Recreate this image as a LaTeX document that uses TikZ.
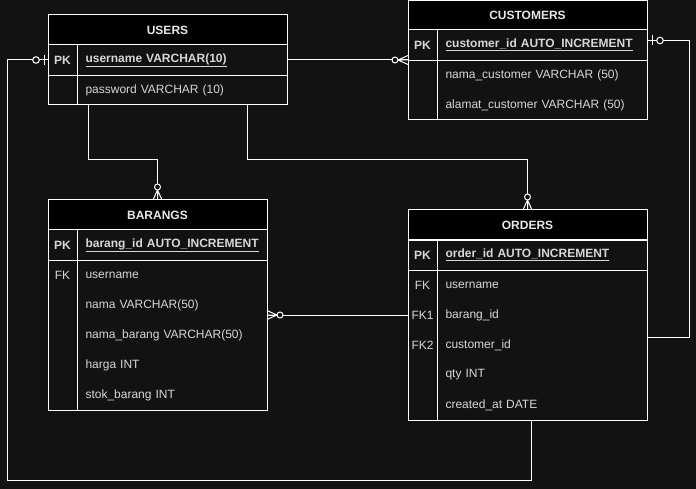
\documentclass[tikz,border=0pt]{standalone}
\usepackage{fontspec}
\setmainfont{Liberation Sans}
\definecolor{bg}{RGB}{18,18,18}
\definecolor{txt}{RGB}{215,215,215}
\definecolor{htxt}{RGB}{232,232,232}
\begin{document}
\begin{tikzpicture}[x=1pt,y=-1pt,line width=1pt]
  \tikzset{ tbl/.style={draw=white,fill=bg,anchor=north west,inner sep=0pt,outer sep=0pt},
    hdr/.style={tbl,fill=black,minimum height=30pt,text=htxt,font=\bfseries\fontsize{12}{14}\selectfont},
    key/.style={minimum width=29pt,minimum height=30pt,inner sep=0pt,text=txt,font=\fontsize{12}{14}\selectfont},
    pkey/.style={key,font=\bfseries\fontsize{12}{14}\selectfont},
    fld/.style={anchor=west,text width=#1,inner xsep=8pt,inner ysep=0pt,minimum height=30pt,align=left,text=txt,font=\fontsize{12}{14}\selectfont},
    sep/.style={draw=white},
    conn/.style={draw=white},
    zmany/.pic={ \draw[white] (10,0) -- (0,4.5) (10,0) -- (0,0) (10,0) -- (0,-4.5);
      \draw[white,fill=bg] (13,0) circle (3); },
    zone/.pic={ \draw[white] (4,-5) -- (4,5);
      \draw[white,fill=bg] (12,0) circle (3.3); },
  }
  \useasboundingbox (0,0) rectangle (696,489);
  \fill[bg] (0,0) rectangle (696,489);

  % USERS
  \node[tbl,minimum width=239pt,minimum height=90pt] (users) at (48,15) {};
  \node[hdr,minimum width=239pt] (usersH) at (48,15) {USERS};
  \node[pkey] at (62.5,60) {PK};
  \node[fld=194pt] (usersPK) at (77,60) {\bfseries\underline{username VARCHAR(10)}};
  \node[fld=194pt] (usersPw) at (77,90) {password VARCHAR (10)};
  \draw[sep] (users.west |- usersPK.south) -- (users.east |- usersPK.south);
  \draw[sep] (usersPK.north west) -- (users.south -| usersPK.west);

  % CUSTOMERS
  \node[tbl,minimum width=239pt,minimum height=119.5pt] (customers) at (408,0.5) {};
  \node[hdr,minimum width=239pt,minimum height=29.5pt] (customersH) at (408,0.5) {CUSTOMERS};
  \node[pkey] at (422.5,45) {PK};
  \node[fld=194pt] (custPK) at (437,45) {\bfseries\underline{customer\_id AUTO\_INCREMENT}};
  \node[fld=194pt] (custNama) at (437,75) {nama\_customer VARCHAR (50)};
  \node[fld=194pt] (custAlamat) at (437,105) {alamat\_customer VARCHAR (50)};
  \draw[sep] (customers.west |- custPK.south) -- (customers.east |- custPK.south);
  \draw[sep] (custPK.north west) -- (customers.south -| custPK.west);

  % BARANGS
  \node[tbl,minimum width=219pt,minimum height=210pt] (barangs) at (48,200) {};
  \node[hdr,minimum width=219pt] (barangsH) at (48,200) {BARANGS};
  \node[pkey] at (62.5,245) {PK};
  \node[key] at (62.5,275) {FK};
  \node[fld=174pt] (barangsPK) at (77,245) {\bfseries\underline{barang\_id AUTO\_INCREMENT}};
  \node[fld=174pt] (barangsUser) at (77,275) {username};
  \node[fld=174pt] (barangsNama) at (77,305) {nama VARCHAR(50)};
  \node[fld=174pt] (barangsNamaB) at (77,335) {nama\_barang VARCHAR(50)};
  \node[fld=174pt] (barangsHarga) at (77,365) {harga INT};
  \node[fld=174pt] (barangsStok) at (77,395) {stok\_barang INT};
  \draw[sep] (barangs.west |- barangsPK.south) -- (barangs.east |- barangsPK.south);
  \draw[sep] (barangsPK.north west) -- (barangs.south -| barangsPK.west);

  % ORDERS
  \node[tbl,minimum width=239pt,minimum height=210pt] (orders) at (408,210) {};
  \node[hdr,minimum width=239pt] (ordersH) at (408,210) {ORDERS};
  \node[pkey] at (422.5,255) {PK};
  \node[key] at (422.5,285) {FK};
  \node[key] at (422.5,315) {FK1};
  \node[key] at (422.5,345) {FK2};
  \node[fld=194pt] (ordersPK) at (437,255) {\bfseries\underline{order\_id AUTO\_INCREMENT}};
  \node[fld=194pt] (ordersFK) at (437,285) {username};
  \node[fld=194pt] (ordersFK1) at (437,315) {barang\_id};
  \node[fld=194pt] (ordersFK2) at (437,345) {customer\_id};
  \node[fld=194pt] (ordersQty) at (437,375) {qty INT};
  \node[fld=194pt] (ordersDate) at (437,405) {created\_at DATE};
  \draw[sep] (orders.west |- ordersPK.south) -- (orders.east |- ordersPK.south);
  \draw[sep] (ordersPK.north west) -- (orders.south -| ordersPK.west);

  % the relations between the tables
  \draw[conn] (usersPK.east) -- (usersPK.east -| customers.west);
  \pic[rotate=180] at (usersPK.east -| customers.west) {zmany};

  \draw[conn] ([xshift=40pt]users.south west) -- ++(0,55) -| (barangs.north);
  \pic[rotate=90] at (barangs.north) {zmany};

  \draw[conn] ([xshift=199pt]users.south west) -- ++(0,55) -| (orders.north);
  \pic[rotate=90] at (orders.north) {zmany};

  \draw[conn] ([yshift=4.5pt]custPK.east) -- ++(41,0) |- ([yshift=-22pt]orders.east);
  \pic at ([yshift=4.5pt]custPK.east) {zone};

  \draw[conn] (barangs.east |- ordersFK1) -- (orders.west |- ordersFK1);
  \pic at (barangs.east |- ordersFK1) {zmany};

  \draw[conn] (users.west |- usersPK) -| ++(-41,420) -| ([xshift=4pt]orders.south);
  \pic[rotate=180] at (users.west |- usersPK) {zone};
\end{tikzpicture}
\end{document}
